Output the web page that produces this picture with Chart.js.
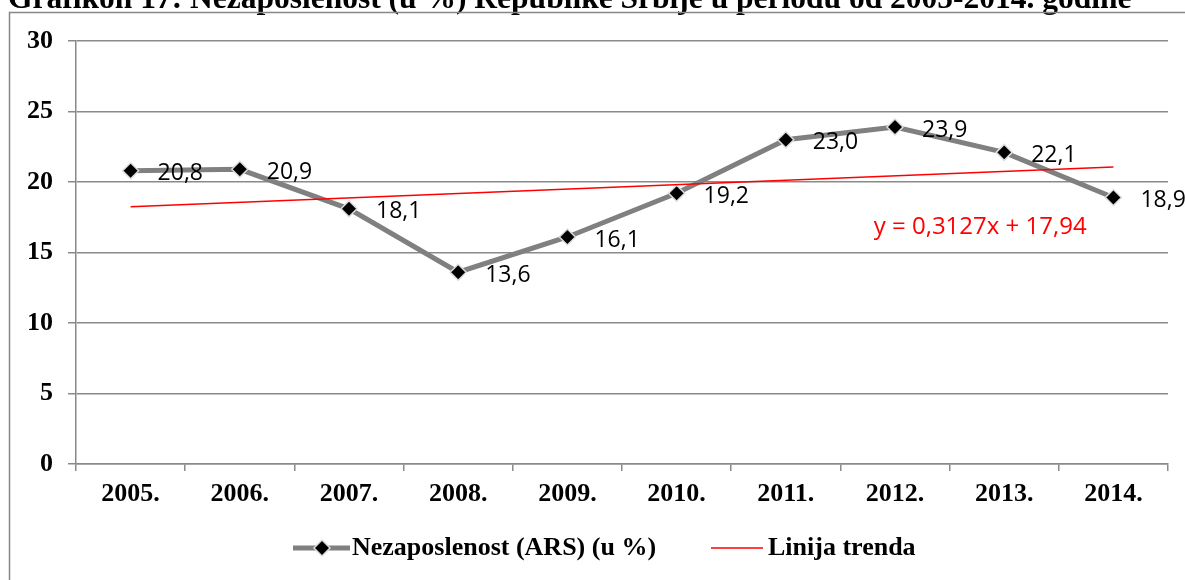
<!DOCTYPE html>
<html><head><meta charset="utf-8">
<script src="https://cdn.jsdelivr.net/npm/chart.js@4"></script>
<style>html,body{margin:0;padding:0;background:#fff;overflow:hidden}
#wrap{position:absolute;left:0;top:0;width:1185px;height:580px}</style>
</head><body><div id="wrap"><canvas id="c" width="1185" height="580"></canvas></div>
<script>
const years = ['2005.','2006.','2007.','2008.','2009.','2010.','2011.','2012.','2013.','2014.'];
const unemployment = [20.8, 20.9, 18.1, 13.6, 16.1, 19.2, 23.0, 23.9, 22.1, 18.9];
const trendEnds = [18.25, null, null, null, null, null, null, null, null, 21.07];
const yTicks = [0, 5, 10, 15, 20, 25, 30];
const titleText = 'Grafikon 17: Nezaposlenost (u %) Republike Srbije u periodu od 2005-2014. godine';
const seriesName = 'Nezaposlenost (ARS) (u %)';
const trendName = 'Linija trenda';
const equationText = 'y = 0,3127x + 17,94';

const SERIF = '"Liberation Serif", "Times New Roman", serif';
const SANS = '"Open Sans", "Noto Sans", sans-serif';
const GRID = '#8a8a8a';

const decor = {
  id: 'decor',
  beforeDraw(chart) {
    const ctx = chart.ctx;
    ctx.save();
    ctx.fillStyle = '#fff';
    ctx.fillRect(0, 0, chart.width, chart.height);
    ctx.fillStyle = '#000';
    ctx.font = 'bold 31.5px ' + SERIF;
    ctx.textAlign = 'left';
    ctx.textBaseline = 'alphabetic';
    ctx.fillText(titleText, 8, 8);
    ctx.strokeStyle = '#878787';
    ctx.lineWidth = 1.5;
    ctx.strokeRect(9.5, 12.5, 1400, 800);
    ctx.restore();
  },
  afterDatasetsDraw(chart) {
    const ctx = chart.ctx;
    const meta = chart.getDatasetMeta(0);
    ctx.save();
    ctx.fillStyle = '#000';
    ctx.font = '23px ' + SANS;
    ctx.textAlign = 'left';
    ctx.textBaseline = 'middle';
    meta.data.forEach((p, i) => {
      ctx.fillText(unemployment[i].toFixed(1).replace('.', ','), p.x + 27, p.y + 3);
    });
    const xs = chart.scales.x, ys = chart.scales.y;
    ctx.fillStyle = '#ff0000';
    ctx.textAlign = 'center';
    ctx.font = '24px ' + SANS;
    ctx.fillText(equationText, xs.getPixelForValue(7.78), ys.getPixelForValue(16.8));
    // legend
    const ly = 548;
    ctx.strokeStyle = '#808080';
    ctx.lineWidth = 5;
    ctx.beginPath(); ctx.moveTo(293, ly); ctx.lineTo(350, ly); ctx.stroke();
    ctx.fillStyle = '#000';
    ctx.strokeStyle = '#dcdcdc';
    ctx.lineWidth = 1.5;
    Chart.helpers.drawPoint(ctx, {pointStyle: 'rectRot', radius: 8, borderWidth: 1.5}, 322, ly);
    ctx.font = 'bold 26px ' + SERIF;
    ctx.textAlign = 'left';
    ctx.fillStyle = '#000';
    ctx.fillText(seriesName, 352, ly);
    ctx.strokeStyle = '#ff0000';
    ctx.lineWidth = 1.5;
    ctx.beginPath(); ctx.moveTo(711, ly); ctx.lineTo(763, ly); ctx.stroke();
    ctx.fillText(trendName, 768, ly);
    ctx.restore();
  }
};

new Chart(document.getElementById('c'), {
  type: 'line',
  data: {
    labels: years,
    datasets: [
      {
        label: seriesName,
        data: unemployment,
        borderColor: '#808080',
        borderWidth: 5,
        pointStyle: 'rectRot',
        pointRadius: 8,
        pointHoverRadius: 8,
        pointBackgroundColor: '#000',
        pointBorderColor: '#dcdcdc',
        pointBorderWidth: 1.5,
        tension: 0,
        order: 1
      },
      {
        label: trendName,
        data: trendEnds,
        spanGaps: true,
        borderColor: '#ff0000',
        borderWidth: 1.5,
        pointRadius: 0,
        tension: 0,
        order: 0
      }
    ]
  },
  options: {
    responsive: false,
    animation: false,
    events: [],
    layout: { padding: { left: 0, top: 41, right: 17, bottom: 56 } },
    plugins: { legend: { display: false }, tooltip: { enabled: false } },
    scales: {
      x: {
        offset: true,
        afterFit(s) { s.height = 60; },
        grid: { drawOnChartArea: false, drawTicks: true, tickLength: 7, offset: true, color: GRID, lineWidth: 1.5 },
        border: { display: true, color: GRID, width: 1.5 },
        ticks: { color: '#000', font: { family: SERIF, size: 26, weight: 'bold' }, padding: 8, maxRotation: 0 }
      },
      y: {
        min: 0, max: 30,
        afterFit(s) { s.width = 76; },
        afterBuildTicks(s) { s.ticks = yTicks.map(v => ({ value: v })); },
        grid: { color: GRID, lineWidth: 1.5, drawTicks: true, tickLength: 8 },
        border: { display: true, color: GRID, width: 1.5 },
        ticks: { color: '#000', font: { family: SERIF, size: 26, weight: 'bold' }, padding: 15 }
      }
    }
  },
  plugins: [decor]
});
</script></body></html>
